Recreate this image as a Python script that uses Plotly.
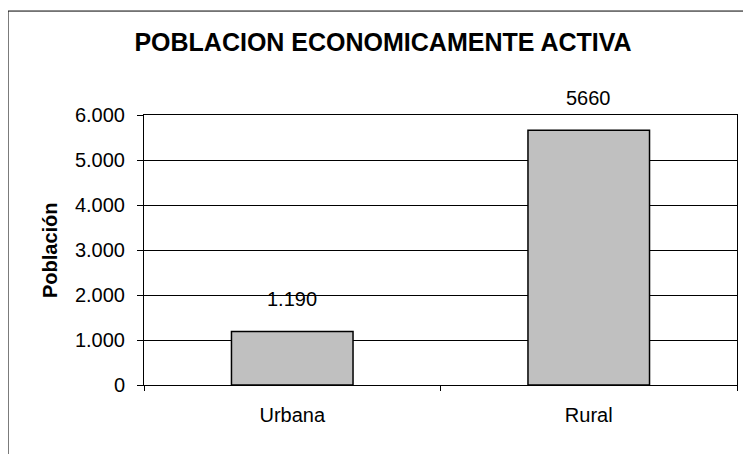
import plotly.graph_objects as go

categories = ["Urbana", "Rural"]
values = [1190, 5660]
value_labels = ["1.190", "5660"]
title_text = "POBLACION ECONOMICAMENTE ACTIVA"
y_title = "Población"
y_ticks = [0, 1000, 2000, 3000, 4000, 5000, 6000]
y_ticklabels = ["0", "1.000", "2.000", "3.000", "4.000", "5.000", "6.000"]

FONT = "Liberation Sans, Arial, sans-serif"

# the page body adds an 8px margin; size the figure to compensate
W, H = 743, 446

fig = go.Figure()
fig.add_trace(go.Bar(
    x=categories, y=values, width=0.41,
    marker=dict(color="#c0c0c0", line=dict(color="black", width=1.5)),
    hoverinfo="skip",
))

for c, v, t in zip(categories, values, value_labels):
    fig.add_annotation(x=c, y=v, text=t, showarrow=False, yanchor="bottom",
                       yshift=19, font=dict(family=FONT, size=20, color="black"))

fig.add_annotation(xref="paper", yref="paper", x=-0.1585, y=0.5, text="<b>%s</b>" % y_title,
                   textangle=-90, showarrow=False, xanchor="center", yanchor="middle",
                   font=dict(family=FONT, size=20, color="black"))

# outer chart border
fig.add_shape(type="rect", xref="paper", yref="paper", x0=-0.2293, y0=-0.3, x1=1.1, y1=1.385,
              line=dict(color="black", width=1), fillcolor="rgba(0,0,0,0)", layer="below")

fig.update_layout(
    width=W, height=H,
    margin=dict(l=136, r=14, t=107, b=69),
    paper_bgcolor="white", plot_bgcolor="white",
    showlegend=False,
    font=dict(family=FONT, size=20, color="black"),
    title=dict(text="<b>%s</b>" % title_text, x=375/W, xanchor="center",
               y=1 - 34/H, yanchor="middle", yref="container",
               font=dict(family=FONT, size=25, color="black")),
    bargap=0.59,
)
fig.update_xaxes(
    type="category", showline=True, linecolor="black", linewidth=1, mirror=True,
    ticks="outside", tickson="boundaries", ticklen=5, tickcolor="black",
    showgrid=False, ticklabelstandoff=12,
    tickfont=dict(family=FONT, size=20, color="black"),
)
fig.update_yaxes(
    range=[0, 6000], tickvals=y_ticks, ticktext=y_ticklabels,
    showline=True, linecolor="black", linewidth=1, mirror=True,
    ticks="outside", ticklen=6, tickcolor="black",
    showgrid=True, gridcolor="black", gridwidth=1, zeroline=False,
    ticklabelstandoff=8,
    tickfont=dict(family=FONT, size=20, color="black"),
)

fig.write_html("out.html")
